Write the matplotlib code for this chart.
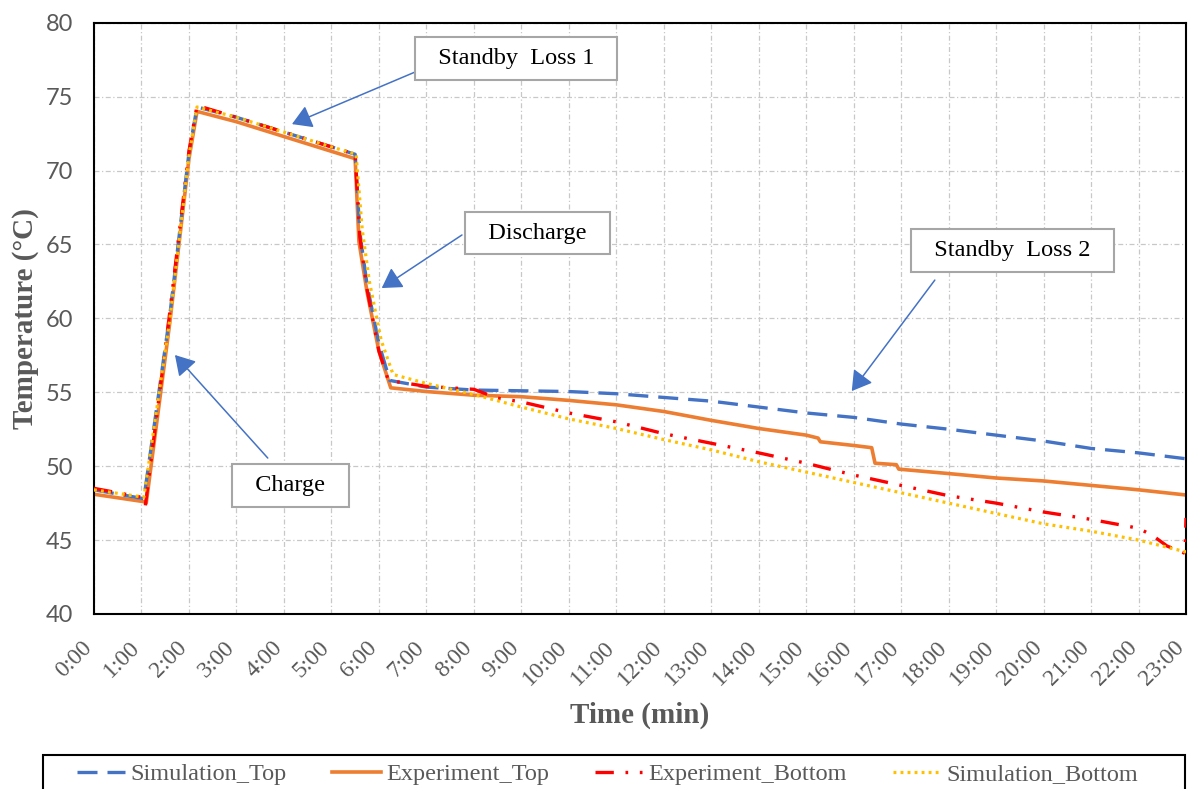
import matplotlib.pyplot as plt
from matplotlib.patches import Rectangle
from matplotlib.lines import Line2D
from matplotlib.transforms import ScaledTranslation

# time in minutes, temperatures in degC
sim_top_t = [0, 1.05, 1.6, 2.0, 2.17, 3, 4, 5, 5.5, 5.6, 5.75, 6.0, 6.23, 7, 8, 9, 10,
             11, 12, 13, 14, 15, 16, 17, 18, 19, 20, 21, 22, 23]
sim_top = [48.4, 47.8, 60.3, 71.2, 74.3, 73.6, 72.6, 71.6, 71.1, 65.8, 62.3, 58.3, 55.8,
           55.35, 55.15, 55.1, 55.05, 54.9, 54.65, 54.4, 54.0, 53.6, 53.3, 52.85, 52.5,
           52.1, 51.7, 51.2, 50.9, 50.5]

exp_top_t = [0, 1.05, 1.1, 1.6, 2.0, 2.17, 3, 4, 5, 5.5, 5.58, 5.75, 6.0, 6.25, 7, 8, 9,
             10, 11, 12, 13, 14, 15, 15.25, 15.3, 16, 16.38, 16.45, 16.9, 16.95, 18, 19,
             20, 21, 22, 23]
exp_top = [48.1, 47.6, 47.5, 59.8, 70.8, 74.0, 73.3, 72.3, 71.3, 70.8, 65.2, 61.8, 57.8,
           55.3, 55.05, 54.8, 54.7, 54.45, 54.15, 53.7, 53.1, 52.55, 52.1, 51.9, 51.65,
           51.4, 51.25, 50.2, 50.1, 49.8, 49.5, 49.2, 49.0, 48.7, 48.4, 48.05]

exp_bot_t = [0, 1.0, 1.08, 1.6, 2.0, 2.17, 3, 4, 5, 5.5, 5.6, 5.75, 6.0, 6.2, 7, 8, 8.5,
             9, 10, 11, 12, 13, 14, 15, 16, 17, 18, 19, 20, 21, 22, 22.3, 22.6, 22.98, 23.0]
exp_bot = [48.5, 47.9, 47.3, 60.5, 71.3, 74.4, 73.6, 72.6, 71.6, 71.1, 65.5, 62.0, 57.8,
           55.8, 55.4, 55.2, 54.6, 54.35, 53.6, 53.0, 52.2, 51.55, 50.9, 50.2, 49.4, 48.7,
           48.0, 47.5, 46.9, 46.4, 45.8, 45.3, 44.6, 44.1, 46.5]

sim_bot_t = [0, 1.05, 1.6, 2.0, 2.17, 3, 4, 5, 5.52, 5.65, 5.8, 6.05, 6.3, 7, 8, 9, 10,
             11, 12, 13, 14, 15, 16, 17, 18, 19, 20, 21, 22, 23]
sim_bot = [48.4, 47.9, 60.0, 71.0, 74.3, 73.6, 72.6, 71.6, 71.1, 66.0, 62.5, 58.5, 56.2,
           55.6, 54.85, 54.0, 53.2, 52.55, 51.8, 51.1, 50.3, 49.6, 48.9, 48.2, 47.5, 46.8,
           46.1, 45.6, 45.0, 44.2]

minutes = list(range(24))
tick_labels = [f"{m}:00" for m in minutes]

BLUE = "#4472C4"
ORANGE = "#ED7D31"
RED = "#FF0000"
YELLOW = "#FFC000"
GRAY = "#595959"
SERIF = "Liberation Serif"

fig = plt.figure(figsize=(11.9, 7.89), dpi=100)
ax = fig.add_axes([94 / 1190, 1 - 614 / 789, 1092 / 1190, 591.3 / 789])

styles = {
    "Simulation_Top": dict(color=BLUE, lw=2.4, linestyle=(0, (6, 3))),
    "Experiment_Top": dict(color=ORANGE, lw=2.6, linestyle="-"),
    "Experiment_Bottom": dict(color=RED, lw=2.4,
                              linestyle=(0, (5.5, 3.5, 0.8, 3.5, 0.8, 3.5))),
    "Simulation_Bottom": dict(color=YELLOW, lw=2.3, linestyle=(0, (0.9, 1.3))),
}

ax.plot(sim_top_t, sim_top, **styles["Simulation_Top"], zorder=3)
ax.plot(exp_top_t, exp_top, **styles["Experiment_Top"], zorder=2)
ax.plot(exp_bot_t, exp_bot, **styles["Experiment_Bottom"], zorder=4)
ax.plot(sim_bot_t, sim_bot, **styles["Simulation_Bottom"], zorder=5)

ax.set_xlim(0, 23)
ax.set_ylim(40, 80)
ax.set_xticks(minutes)
ax.set_xticklabels(tick_labels, rotation=45, ha="right", va="center",
                   rotation_mode="anchor", fontsize=17, family=SERIF, color=GRAY)
ax.set_yticks(range(40, 81, 5))
ax.set_yticklabels([str(v) for v in range(40, 81, 5)], fontsize=17, family="Lato",
                   color=GRAY)
ax.tick_params(axis="x", length=0, pad=22)
ax.tick_params(axis="y", length=0, pad=15)

# nudge the slanted labels left so the last one stays inside the figure
shift = ScaledTranslation(-5 / 100, 0, fig.dpi_scale_trans)
for tick in ax.xaxis.get_major_ticks():
    tick.label1.set_transform(tick.label1.get_transform() + shift)

ax.grid(True, color="#c8c8c8", lw=0.9, linestyle=(0, (4, 2, 1, 2)))
ax.set_axisbelow(True)
for sp in ax.spines.values():
    sp.set_color("black")
    sp.set_linewidth(1.5)

ax.set_xlabel("Time (min)", fontsize=21, fontweight="bold", family=SERIF, color=GRAY)
ax.set_ylabel("Temperature (\u00b0C)", fontsize=21, fontweight="bold", family=SERIF,
              color=GRAY)
ax.xaxis.set_label_coords(0.5, -0.148)
ax.yaxis.set_label_coords(-0.05, 0.5)

# phase callouts
notes = [
    ("Standby  Loss 1", (8.89, 77.58), (6.76, 76.66), (4.17, 73.14)),
    ("Discharge", (9.34, 65.77), (7.75, 65.64), (6.06, 62.05)),
    ("Standby  Loss 2", (19.35, 64.59), (17.71, 62.59), (15.96, 55.08)),
    ("Charge", (4.14, 48.72), (3.66, 50.55), (1.705, 57.52)),
]
for label, box_xy, tail, head in notes:
    ax.annotate("", xy=head, xytext=tail,
                arrowprops=dict(arrowstyle="-|>,head_length=0.5,head_width=0.3",
                                color=BLUE, lw=1.1, mutation_scale=24,
                                shrinkA=0, shrinkB=0),
                zorder=6)
    ax.text(box_xy[0], box_xy[1], f"  {label}  ", ha="center", va="center",
            fontsize=17.5, family=SERIF, color="black", zorder=7,
            bbox=dict(boxstyle="square,pad=0.45", fc="white", ec="#a6a6a6", lw=1.5))

# legend frame running off the bottom edge
fig.patches.append(Rectangle((43 / 1190, -0.05), 1142 / 1190, 0.05 + 34 / 789,
                             transform=fig.transFigure, fill=False, ec="black",
                             lw=1.5))
handles = [Line2D([], [], **styles[name]) for name in styles]
fig.legend(handles, list(styles), loc="center", bbox_to_anchor=(607.5 / 1190, 15 / 789),
           ncol=4, frameon=False, handlelength=2.0, handletextpad=0.2,
           columnspacing=1.9, prop=dict(family=SERIF, size=17.5), labelcolor=GRAY)

fig.savefig("out.png", dpi=100)
